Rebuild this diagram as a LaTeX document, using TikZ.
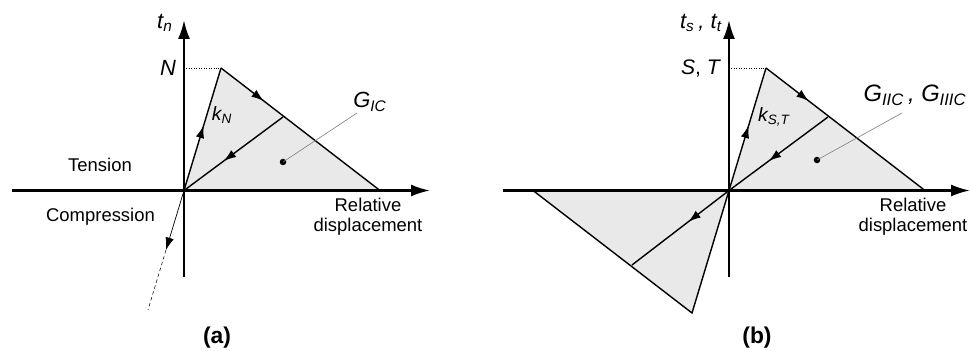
\documentclass[tikz,border=0pt]{standalone}
\usepackage{fontspec}
\setmainfont{Liberation Sans}
\usetikzlibrary{arrows.meta,decorations.markings}
\tikzset{
  axis/.style={line width=1.3pt,-{Latex[length=3.8mm,width=2.4mm]}},
  curve/.style={line width=0.8pt},
  area/.style={fill=gray!17},
  midarrow/.style={postaction={decorate},decoration={markings,
    mark=at position #1 with {\arrow{Latex[length=2.5mm,width=1.7mm]}}}},
  leader/.style={gray,line width=0.35pt},
  small/.style={font=\fontsize{10.5}{11.5}\selectfont,align=center},
  big/.style={font=\fontsize{12.5}{14}\selectfont\itshape},
  mid/.style={font=\fontsize{11}{12}\selectfont\itshape},
  caption/.style={font=\fontsize{13}{14}\selectfont\bfseries},
}
\begin{document}
\begin{tikzpicture}
  \useasboundingbox (-3.68,-3.21) rectangle (15.72,3.81);
  % ---------- (a) normal mode ----------
  \coordinate (o) at (0,0);
  \coordinate (pk) at (0.74,2.45);
  \coordinate (en) at (3.92,0);
  \coordinate (un) at (1.98,1.47);
  \coordinate (ny) at (0,2.45);
  \coordinate (cA) at (-0.36,-1.19);
  \coordinate (cB) at (-0.72,-2.39);
  % gefuellte Flaeche
  \fill[area] (o) -- (pk) -- (en) -- cycle;
  % Achsen
  \draw[axis] (-3.44,0) -- (4.92,0);
  \draw[axis] (0,-1.73) -- (0,3.41);
  % Be- und Entlastung
  \draw[curve,midarrow=0.53] (o) -- (pk);
  \draw[curve,midarrow=0.27] (pk) -- (en);
  \draw[curve,midarrow=0.6] (un) -- (o);
  \draw[densely dotted,line width=0.4pt] (ny) -- (pk);
  % Druck
  \draw[line width=0.4pt,-{Latex[length=2.5mm,width=1.7mm]}] (o) -- (cA);
  \draw[dashed,line width=0.3pt,dash pattern=on 2pt off 1.5pt] (cA) -- (cB);
  % G_IC
  \fill (1.98,0.57) circle (0.065) coordinate (dA);
  \node[big] (gA) at (3.72,1.77) {G\textsubscript{IC}};
  \draw[leader] (dA) -- (3.46,1.55);
  % Beschriftung
  \node[big] (tn) at (-0.38,3.35) {t\textsubscript{n}};
  \node[big] (nN) at (-0.32,2.45) {N};
  \node[mid] (kN) at (0.76,1.51) {k\textsubscript{N}};
  \node[small] (ten) at (-1.68,0.51) {Tension};
  \node[small] (com) at (-1.67,-0.53) {Compression};
  \node[small] (rdA) at (3.68,-0.53) {Relative\\displacement};
  \node[caption] (la) at (0.66,-2.95) {(a)};
  % ---------- (b) shear modes ----------
  \begin{scope}[xshift=10.9cm]
    \coordinate (o2) at (0,0);
    \coordinate (pk2) at (0.74,2.45);
    \coordinate (en2) at (3.92,0);
    \coordinate (un2) at (1.98,1.47);
    \coordinate (ny2) at (0,2.45);
    \coordinate (pl2) at (-0.74,-2.45);
    \coordinate (el2) at (-3.92,0);
    \coordinate (ul2) at (-1.94,-1.49);
    % gefuellte Flaechen
    \fill[area] (o2) -- (pk2) -- (en2) -- cycle;
    \fill[area] (o2) -- (pl2) -- (el2) -- cycle;
    % Achsen
    \draw[axis] (-4.52,0) -- (4.82,0);
    \draw[axis] (0,-1.73) -- (0,3.41);
    % Be- und Entlastung
    \draw[curve,midarrow=0.53] (o2) -- (pk2);
    \draw[curve,midarrow=0.27] (pk2) -- (en2);
    \draw[curve,midarrow=0.6] (un2) -- (o2);
    \draw[curve] (o2) -- (pl2) -- (el2);
    \draw[curve,midarrow=0.42] (o2) -- (ul2);
    \draw[densely dotted,line width=0.4pt] (ny2) -- (pk2);
    % G_IIC, G_IIIC
    \fill (1.76,0.61) circle (0.065) coordinate (dB);
    \node[big,font=\fontsize{13.5}{15}\selectfont\itshape] (gB) at (3.72,1.91) {G\textsubscript{IIC}\,, G\textsubscript{IIIC}};
    \draw[leader] (dB) -- (3.46,1.55);
    % Beschriftung
    \node[big] (ts) at (-0.56,3.35) {t\textsubscript{s}\,, t\textsubscript{t}};
    \node[font=\fontsize{12}{13}\selectfont] (nST) at (-0.56,2.45) {\textit{S}, \textit{T}};
    \node[mid] (kST) at (0.9,1.47) {k\textsubscript{S,T}};
    \node[small] (rdB) at (3.68,-0.53) {Relative\\displacement};
    \node[caption] (lb) at (0.56,-2.95) {(b)};
  \end{scope}
\end{tikzpicture}
\end{document}
